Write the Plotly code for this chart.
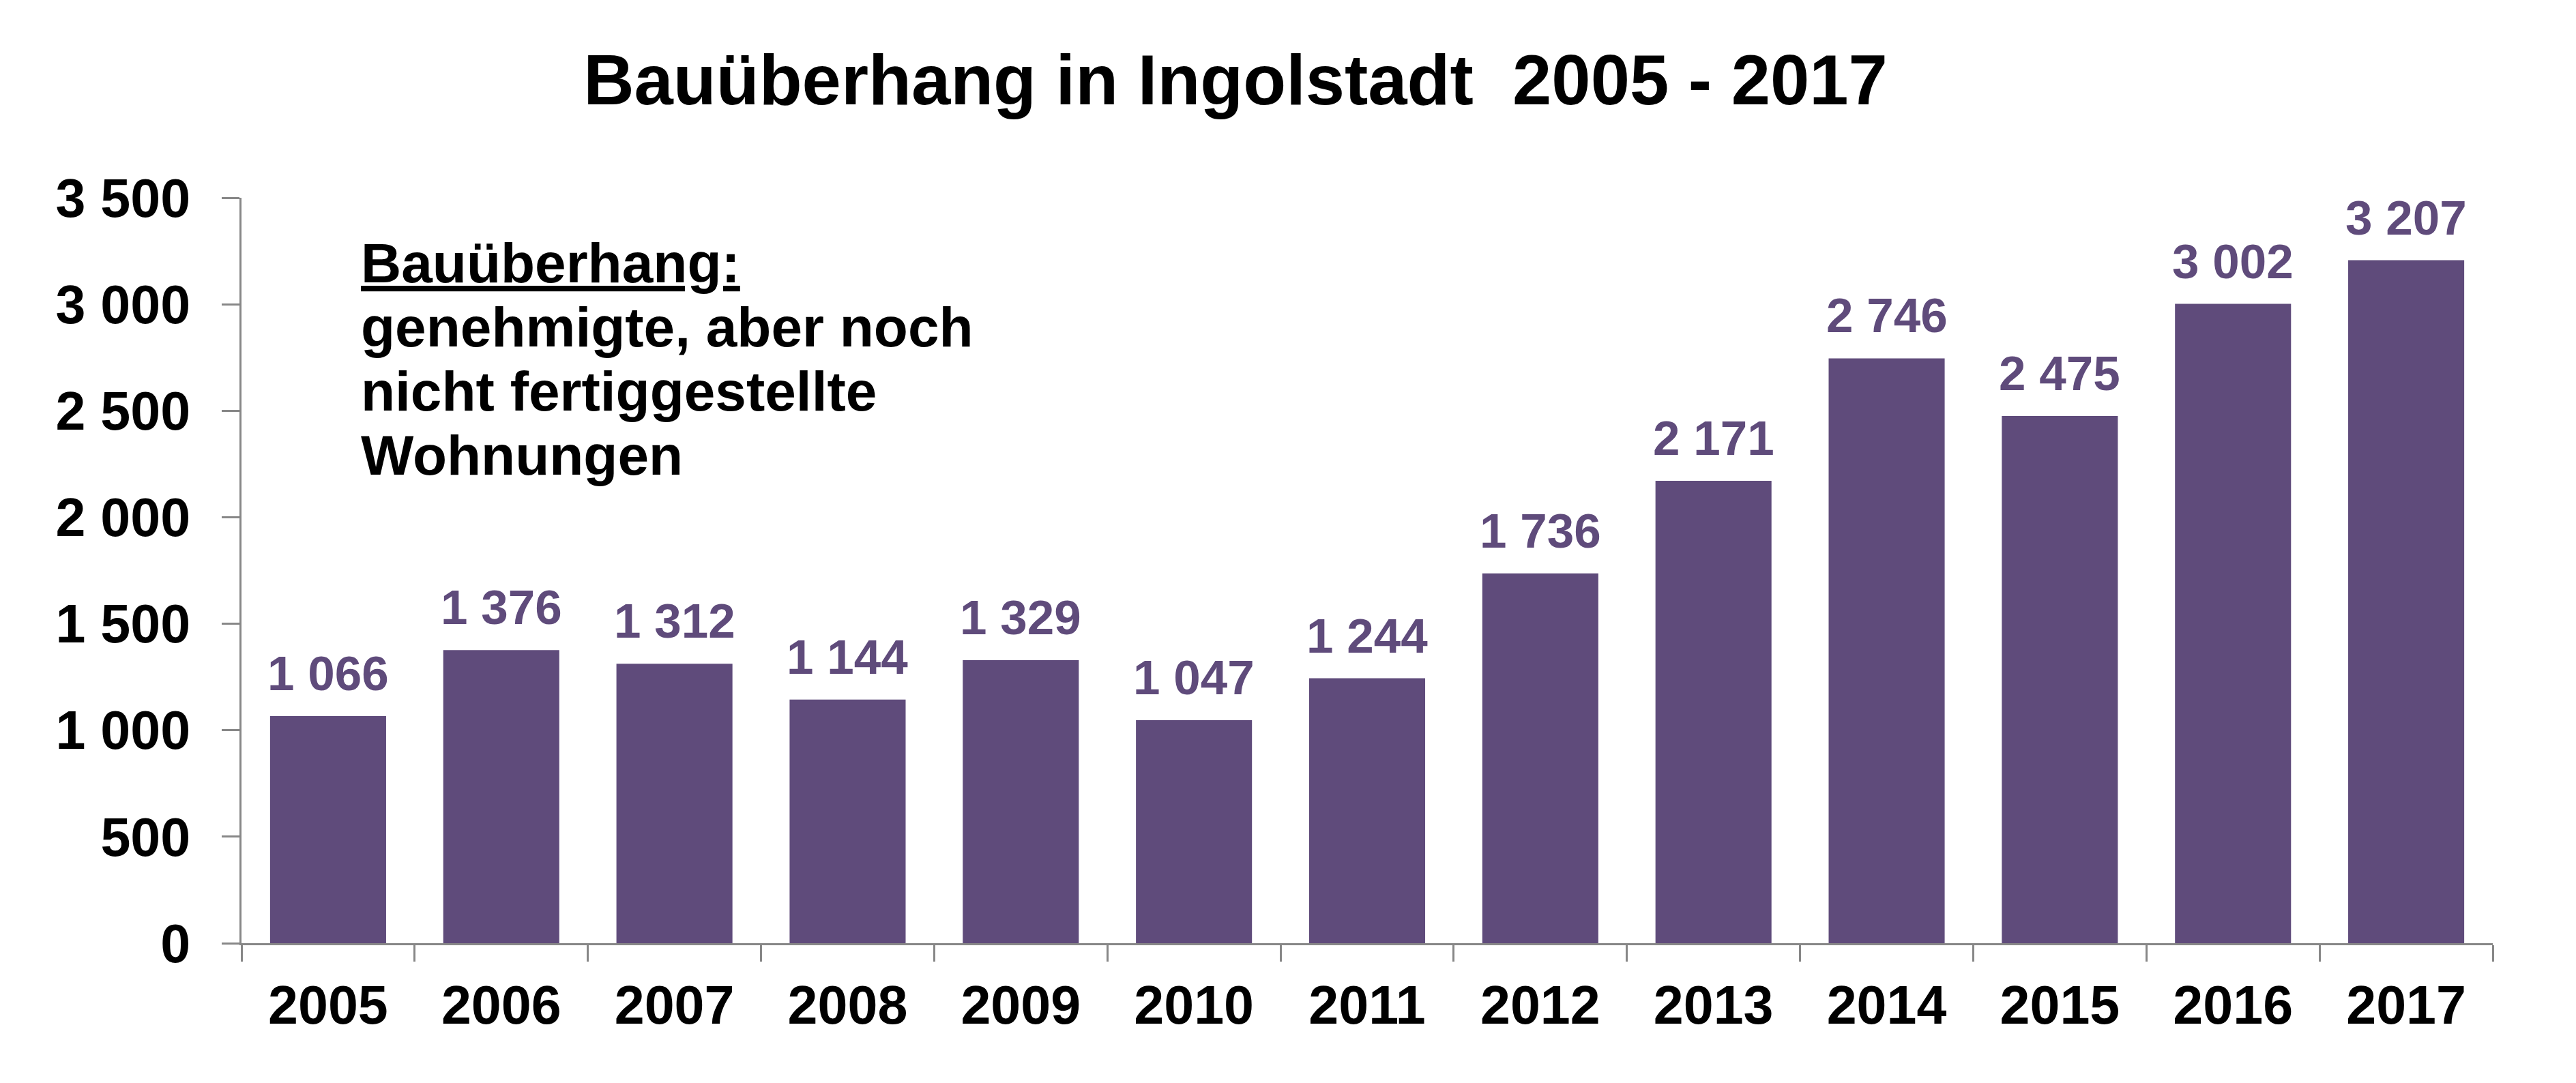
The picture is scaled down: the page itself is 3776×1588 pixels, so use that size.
import plotly.graph_objects as go

# Bauüberhang Ingolstadt 2005-2017
years = ["2005", "2006", "2007", "2008", "2009", "2010", "2011",
         "2012", "2013", "2014", "2015", "2016", "2017"]
ueberhang = [1066, 1376, 1312, 1144, 1329, 1047, 1244,
             1736, 2171, 2746, 2475, 3002, 3207]

note_lines = ["<u>Bauüberhang:</u>", "genehmigte, aber noch",
              "nicht fertiggestellte", "Wohnungen"]

purple = "#5F4B7B"
grey = "#878787"
font = "Liberation Sans, Arial, sans-serif"

fig = go.Figure()
fig.add_trace(go.Bar(x=years, y=ueberhang,
                     marker=dict(color=purple, line=dict(width=0))))

# value labels above the bars (x given as category index)
for i, v in enumerate(ueberhang):
    fig.add_annotation(x=i, y=v, xref="x", yref="y",
                       text=f"{v:,}".replace(",", " "),
                       xanchor="center", yanchor="bottom", yshift=21,
                       showarrow=False,
                       font=dict(family=font, size=71, color=purple, weight="bold"))

# note in the upper left, one annotation per line
note_y = [0.913, 0.827, 0.741, 0.6546]
for txt, ny in zip(note_lines, note_y):
    fig.add_annotation(text=txt, xref="paper", yref="paper", x=0.0525, y=ny,
                       xanchor="left", yanchor="middle", showarrow=False,
                       font=dict(family=font, size=82, color="black", weight="bold"))

fig.update_layout(
    width=3776, height=1588,
    margin=dict(l=346, r=130, t=282, b=213),
    paper_bgcolor="white", plot_bgcolor="white",
    separators=", ",
    bargap=0.33,
    showlegend=False,
    title=dict(text="Bauüberhang in Ingolstadt \u00a02005 - 2017",
               x=0.4775, xanchor="center", y=1 - 109 / 1588, yanchor="middle",
               font=dict(family=font, size=103, color="black", weight="bold")),
    xaxis=dict(type="category", range=[-0.5, len(years) - 0.5],
               showline=True, linecolor=grey, linewidth=3,
               ticks="outside", tickson="boundaries", ticklen=24, tickwidth=3,
               tickcolor=grey, showgrid=False, ticklabelstandoff=20,
               tickangle=0,
               tickfont=dict(family=font, size=79, color="black", weight="bold")),
    yaxis=dict(range=[0, 3500], dtick=500, tickformat=",d",
               showline=True, linecolor=grey, linewidth=3,
               ticks="outside", ticklen=26, tickwidth=3, tickcolor=grey,
               showgrid=False, zeroline=False, ticklabelstandoff=30,
               tickfont=dict(family=font, size=79, color="black", weight="bold")),
)

fig.write_html("out.html")
